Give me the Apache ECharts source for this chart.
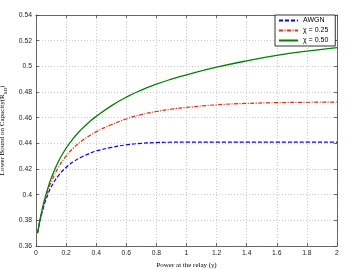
<!DOCTYPE html>
<html><head><meta charset="utf-8">
<script src="https://cdn.jsdelivr.net/npm/echarts@6/dist/echarts.min.js"></script>
<style>html,body{margin:0;padding:0;background:#fff}#c{width:360px;height:270px}</style>
</head><body><div id="c"></div>
<script>
var seriesNames = ['AWGN', 'χ = 0.25', 'χ = 0.50'];
var gammaX = [0.01, 0.02, 0.03, 0.04, 0.05, 0.06, 0.08, 0.1, 0.15, 0.2, 0.25, 0.3, 0.35, 0.4, 0.5, 0.6, 0.7, 0.8, 0.9, 1.0, 1.2, 1.4, 1.6, 1.8, 2.0];
var awgn   = [0.3700, 0.3760, 0.3813, 0.3860, 0.3902, 0.3940, 0.4005, 0.4058, 0.4150, 0.4212, 0.4258, 0.4292, 0.4318, 0.4340, 0.4368, 0.4388, 0.4400, 0.4406, 0.4409, 0.4410, 0.4410, 0.4410, 0.4410, 0.4410, 0.4410];
var chi025 = [0.3700, 0.3763, 0.3820, 0.3872, 0.3918, 0.3960, 0.4033, 0.4095, 0.4215, 0.4300, 0.4365, 0.4415, 0.4455, 0.4490, 0.4545, 0.4590, 0.4624, 0.4648, 0.4666, 0.4680, 0.4700, 0.4711, 0.4717, 0.4720, 0.4722];
var chi050 = [0.3700, 0.3765, 0.3825, 0.3880, 0.3930, 0.3975, 0.4055, 0.4125, 0.4260, 0.4362, 0.4442, 0.4507, 0.4562, 0.4610, 0.4692, 0.4760, 0.4815, 0.4861, 0.4900, 0.4934, 0.4993, 0.5043, 0.5085, 0.5118, 0.5145];
var xTickLabels = ['0', '0.2', '0.4', '0.6', '0.8', '1', '1.2', '1.4', '1.6', '1.8', '2'];
var yTickLabels = ['0.36', '0.38', '0.4', '0.42', '0.44', '0.46', '0.48', '0.5', '0.52', '0.54'];

function pairs(ys) { return gammaX.map(function (x, i) { return [x, ys[i]]; }); }

var frame = '#444';
var split = { show: true, lineStyle: { color: '#bdbdbd', width: 0.8, type: [1, 2] } };
var tickIn = { show: true, inside: true, length: 3, lineStyle: { color: frame, width: 0.8 } };
var lbl = { fontFamily: 'Liberation Sans', fontSize: 6.8, color: '#222' };

var chart = echarts.init(document.getElementById('c'), null, { renderer: 'canvas' });
chart.setOption({
  animation: false,
  backgroundColor: '#fff',
  grid: { left: 36, right: 23, top: 15, bottom: 24, containLabel: false, outerBoundsMode: 'none' },
  xAxis: [{
    type: 'value', min: 0, max: 2, interval: 0.2,
    axisLine: { show: true, onZero: false, lineStyle: { color: frame, width: 0.8 } },
    axisTick: tickIn, splitLine: split,
    axisLabel: Object.assign({ margin: 4, formatter: function (v, i) { return xTickLabels[i]; } }, lbl),
    name: 'Power at the relay (γ)', nameLocation: 'middle', nameGap: 13,
    nameTextStyle: { fontFamily: 'Liberation Serif', fontSize: 7, color: '#000' }
  }, {
    type: 'value', min: 0, max: 2, interval: 0.2, position: 'top',
    axisLine: { show: true, onZero: false, lineStyle: { color: frame, width: 0.8 } },
    axisTick: tickIn, axisLabel: { show: false }, splitLine: { show: false }
  }],
  yAxis: [{
    type: 'value', min: 0.36, max: 0.54, interval: 0.02,
    axisLine: { show: true, onZero: false, lineStyle: { color: frame, width: 0.8 } },
    axisTick: tickIn, splitLine: split,
    axisLabel: Object.assign({ margin: 4, formatter: function (v, i) { return yTickLabels[i]; } }, lbl),
    name: '{a|Lower Bound on Capacity(R}{s|SD}{a|)}', nameLocation: 'middle', nameGap: 24, nameRotate: 90,
    nameTextStyle: {
      rich: {
        a: { fontFamily: 'Liberation Serif', fontSize: 7, color: '#000', lineHeight: 12, verticalAlign: 'middle' },
        s: { fontFamily: 'Liberation Serif', fontSize: 5, color: '#000', lineHeight: 6, verticalAlign: 'bottom' }
      }
    }
  }, {
    type: 'value', min: 0.36, max: 0.54, interval: 0.02, position: 'right',
    axisLine: { show: true, onZero: false, lineStyle: { color: frame, width: 0.8 } },
    axisTick: tickIn, axisLabel: { show: false }, splitLine: { show: false }
  }],
  legend: {
    left: 275, top: 15, orient: 'vertical',
    backgroundColor: '#fff', borderColor: '#000', borderWidth: 0.8, borderRadius: 0,
    padding: [2, 7, 2, 3], itemGap: 3, itemWidth: 19, itemHeight: 8,
    itemStyle: { opacity: 0 },
    textStyle: { fontFamily: 'Liberation Sans', fontSize: 7, color: '#000' },
    data: seriesNames
  },
  series: [
    { name: seriesNames[0], type: 'line', data: pairs(awgn), symbol: 'none', smooth: 0.5,
      lineStyle: { color: '#0000ff', width: 1.2, type: [4, 2] }, itemStyle: { color: '#0000ff' } },
    { name: seriesNames[1], type: 'line', data: pairs(chi025), symbol: 'none', smooth: 0.5,
      lineStyle: { color: '#e8280a', width: 1.2, type: [4, 1.5, 1, 1.5] }, itemStyle: { color: '#e8280a' } },
    { name: seriesNames[2], type: 'line', data: pairs(chi050), symbol: 'none', smooth: 0.5,
      lineStyle: { color: '#008000', width: 1.3 }, itemStyle: { color: '#008000' } }
  ]
});
</script></body></html>
